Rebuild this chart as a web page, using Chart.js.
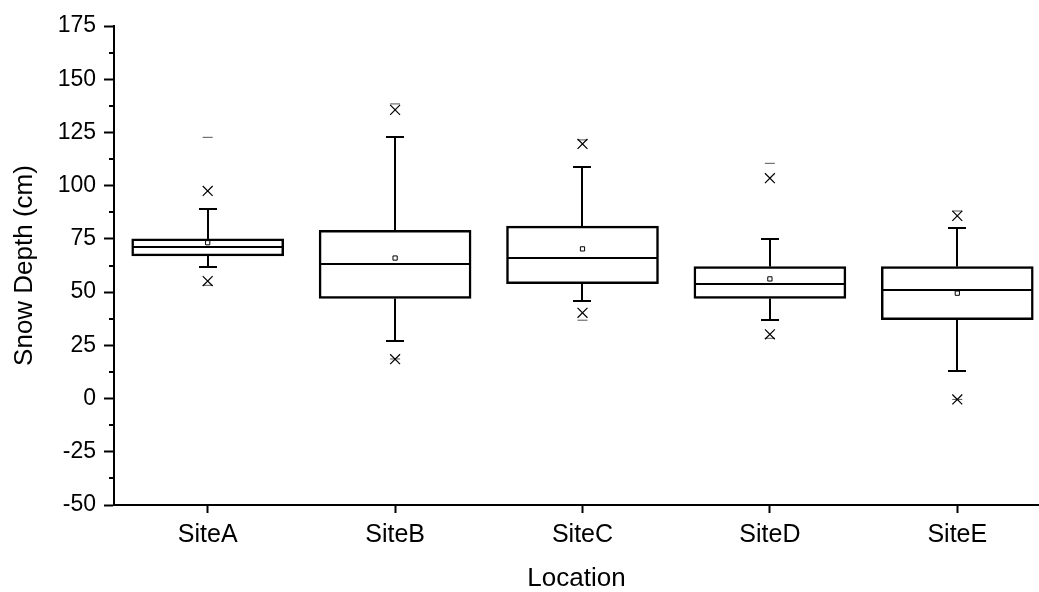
<!DOCTYPE html>
<html>
<head>
<meta charset="utf-8">
<script src="https://cdn.jsdelivr.net/npm/chart.js@4/dist/chart.umd.min.js"></script>
<style>
    html, body { margin: 0; padding: 0; background: #fff; }
    #wrap { width: 1039px; height: 592px; }
</style>
</head>
<body>
<div id="wrap"><canvas id="boxChart" width="1039" height="592"></canvas></div>
<script>
// snow depth stats per site (cm)
const sites = ["SiteA", "SiteB", "SiteC", "SiteD", "SiteE"];
const q1 = [67, 47, 54, 47, 37];
const medians = [71, 63, 66, 54, 51];
const q3 = [75, 79, 81, 62, 62];
const whiskerLow = [62, 27, 46, 37, 13];
const whiskerHigh = [89, 123, 109, 75, 80];
const means = [73.2, 66, 70.3, 56.2, 49.5];
const p1 = [55.2, 18.5, 40.3, 30.2, -0.4];
const p99 = [97.5, 135.6, 119.6, 103.5, 85.8];
const minVals = [53.2, 18.6, 36.8, 28.3, -0.4];
const maxVals = [122.7, 138.4, 121.5, 110.5, 88.1];
const yTicks = [-50, -25, 0, 25, 50, 75, 100, 125, 150, 175];

const positions = sites.map((s, i) => i + 1);

// whiskers, caps and median line, drawn right after the boxes
const boxExtras = {
    id: "boxExtras",
    afterDatasetDraw(chart, args) {
        if (args.index !== 0) return;
        const ctx = chart.ctx;
        const xs = chart.scales.x;
        const ys = chart.scales.y;
        const capHalf = 9;
        const boxHalf = 75;
        ctx.save();
        ctx.strokeStyle = "#000";
        ctx.lineWidth = 2;
        positions.forEach((p, i) => {
            const x = Math.round(xs.getPixelForValue(p));
            const yHi = Math.round(ys.getPixelForValue(whiskerHigh[i]));
            const yLo = Math.round(ys.getPixelForValue(whiskerLow[i]));
            const yQ3 = ys.getPixelForValue(q3[i]);
            const yQ1 = ys.getPixelForValue(q1[i]);
            const yMed = Math.round(ys.getPixelForValue(medians[i]));
            ctx.beginPath();
            ctx.moveTo(x, yQ3); ctx.lineTo(x, yHi);
            ctx.moveTo(x - capHalf, yHi); ctx.lineTo(x + capHalf, yHi);
            ctx.moveTo(x, yQ1); ctx.lineTo(x, yLo);
            ctx.moveTo(x - capHalf, yLo); ctx.lineTo(x + capHalf, yLo);
            ctx.moveTo(x - boxHalf, yMed); ctx.lineTo(x + boxHalf, yMed);
            ctx.stroke();
        });
        ctx.restore();
    }
};

// short minor ticks halfway between the major ones
const minorTicks = {
    id: "minorTicks",
    afterDraw(chart) {
        const ctx = chart.ctx;
        const ys = chart.scales.y;
        const left = chart.chartArea.left;
        ctx.save();
        ctx.strokeStyle = "#000";
        ctx.lineWidth = 2;
        ctx.beginPath();
        for (let k = 0; k < yTicks.length - 1; k++) {
            const v = (yTicks[k] + yTicks[k + 1]) / 2;
            const y = Math.round(ys.getPixelForValue(v));
            ctx.moveTo(left - 5, y);
            ctx.lineTo(left, y);
        }
        ctx.stroke();
        ctx.restore();
    }
};

const ctx = document.getElementById("boxChart").getContext("2d");
new Chart(ctx, {
    type: "bar",
    data: {
        datasets: [
            {
                type: "bar",
                data: positions.map((p, i) => ({ x: p, y: [q1[i], q3[i]] })),
                backgroundColor: "#fff",
                borderColor: "#000",
                borderWidth: 2.5,
                borderSkipped: false,
                barThickness: 152,
                order: 5
            },
            {
                type: "scatter",
                data: positions.map((p, i) => ({ x: p, y: means[i] })),
                pointStyle: "rect",
                radius: 3,
                borderWidth: 1,
                borderColor: "#000",
                backgroundColor: "#fff",
                order: 1
            },
            {
                type: "scatter",
                data: positions.map((p, i) => ({ x: p, y: p1[i] }))
                    .concat(positions.map((p, i) => ({ x: p, y: p99[i] }))),
                pointStyle: "crossRot",
                radius: 7,
                borderWidth: 1.2,
                borderColor: "#000",
                order: 2
            },
            {
                type: "scatter",
                data: positions.map((p, i) => ({ x: p, y: minVals[i] }))
                    .concat(positions.map((p, i) => ({ x: p, y: maxVals[i] }))),
                pointStyle: "line",
                radius: 5,
                borderWidth: 1,
                borderColor: "#555",
                order: 3
            }
        ]
    },
    options: {
        responsive: false,
        animation: false,
        layout: { autoPadding: false, padding: { top: 26, right: 0, bottom: 0, left: 0 } },
        plugins: {
            legend: { display: false },
            tooltip: { enabled: false }
        },
        scales: {
            x: {
                type: "linear",
                min: 0.5,
                max: 5.436,
                offset: false,
                afterBuildTicks: (scale) => {
                    scale.ticks = positions.map(p => ({ value: p }));
                },
                afterFit: (scale) => { scale.height = 87; },
                border: { display: true, color: "#000", width: 2 },
                grid: {
                    offset: false,
                    drawOnChartArea: false,
                    drawTicks: true,
                    tickLength: 8,
                    tickColor: "#000",
                    tickWidth: 2
                },
                ticks: {
                    padding: 7,
                    color: "#000",
                    font: { family: "'Liberation Sans', Arial, sans-serif", size: 25 },
                    maxRotation: 0,
                    callback: (v) => sites[v - 1] || ""
                },
                title: {
                    display: true,
                    text: "Location",
                    color: "#000",
                    font: { family: "'Liberation Sans', Arial, sans-serif", size: 26, lineHeight: 1 },
                    padding: { top: 0, bottom: 0 }
                }
            },
            y: {
                min: -50,
                max: 175,
                afterBuildTicks: (scale) => {
                    scale.ticks = yTicks.map(v => ({ value: v }));
                },
                afterFit: (scale) => { scale.width = 114; },
                border: { display: true, color: "#000", width: 2 },
                grid: {
                    drawOnChartArea: false,
                    drawTicks: true,
                    tickLength: 10,
                    tickColor: "#000",
                    tickWidth: 2
                },
                ticks: {
                    padding: 8,
                    color: "#000",
                    font: { family: "'Liberation Sans', Arial, sans-serif", size: 23 }
                },
                title: {
                    display: true,
                    text: "Snow Depth (cm)",
                    color: "#000",
                    font: { family: "'Liberation Sans', Arial, sans-serif", size: 26, lineHeight: 1.2 },
                    padding: { top: 9, bottom: 0 }
                }
            }
        }
    },
    plugins: [boxExtras, minorTicks]
});
</script>
</body>
</html>
